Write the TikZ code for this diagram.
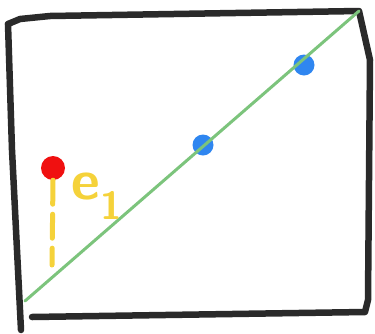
\documentclass[tikz,border=0pt]{standalone}
\usetikzlibrary{calc}
\definecolor{ink}{HTML}{2A2A2A}
\definecolor{stroke}{HTML}{7CC47C}
\definecolor{dotblue}{HTML}{2F86F0}
\definecolor{dotred}{HTML}{F01010}
\definecolor{marker}{HTML}{F5D23A}

\begin{document}
\begin{tikzpicture}[x=1pt, y=-1pt,
    frame/.style={draw=ink, line width=6.5pt, line cap=round, line join=round},
    diag/.style={draw=stroke, line width=3pt, line cap=round},
    blob/.style={circle, inner sep=0pt, minimum size=#1},
    guide/.style={draw=marker, line width=5pt, line cap=round,
                  dash pattern=on 24pt off 10pt}]
    \useasboundingbox (0,0) rectangle (375,333);
    % hand drawn frame
    \draw[frame] (8,24) -- (20,19) -- (50,16) -- (359,11)
        -- (370,60) -- (368,300) -- (365,312) -- (32,317);
    \draw[frame] (8,24) -- (12,150) -- (21,330);
    % diagonal with the two points on it
    \coordinate (lo) at (25,301);
    \coordinate (hi) at (359,11);
    \node[blob=21pt, fill=dotblue] (p1) at (203,145) {};
    \node[blob=21pt, fill=dotblue] (p2) at (304,65) {};
    \draw[diag] (lo) -- (hi);
    % red point and its dashed drop
    \node[blob=24pt, fill=dotred] (q) at (53,168) {};
    \coordinate (foot) at (52,265);
    \draw[guide] (q.south) ++(0,0pt) coordinate (top) (top) -- (foot);
    \node[text=marker, font=\sffamily\bfseries\fontsize{56}{56}\selectfont,
          inner sep=0pt] (lbl) at (97,196) {e\textsubscript{1}};
\end{tikzpicture}
\end{document}
